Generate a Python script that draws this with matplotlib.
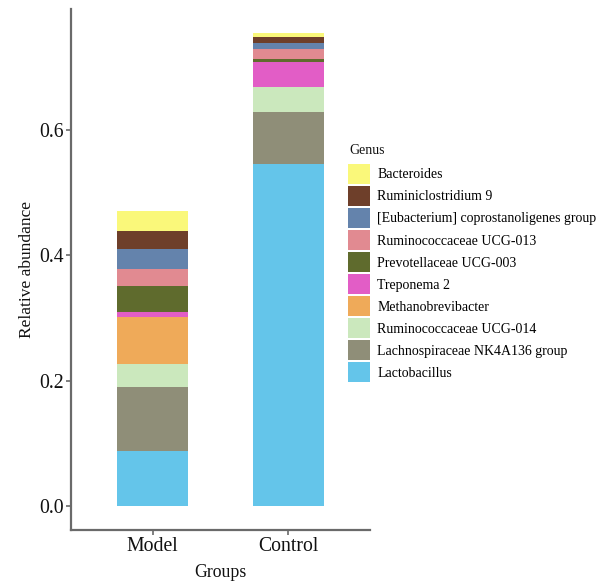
import matplotlib
matplotlib.use("Agg")
import matplotlib.pyplot as plt
from matplotlib.patches import Patch
import numpy as np

plt.rcParams['font.family'] = ['Liberation Serif', 'DejaVu Serif']

groups = ["Model", "Control"]
genera = ["Lactobacillus", "Lachnospiraceae NK4A136 group", "Ruminococcaceae UCG-014",
          "Methanobrevibacter", "Treponema 2", "Prevotellaceae UCG-003",
          "Ruminococcaceae UCG-013", "[Eubacterium] coprostanoligenes group",
          "Ruminiclostridium 9", "Bacteroides"]
model_vals = [0.0874, 0.1024, 0.0366, 0.0747, 0.0080, 0.0423, 0.0261, 0.0323, 0.0291, 0.0318]
control_vals = [0.5450, 0.0827, 0.0402, 0.0005, 0.0397, 0.0043, 0.0154, 0.0105, 0.0095, 0.0064]
colors = ["#64C5EA", "#8F8E78", "#CBE8BD", "#EFAA59", "#E25DC6", "#5F6B2D",
          "#E18A91", "#6483AC", "#6E3F2A", "#FAF87A"]
yticks = [0.0, 0.2, 0.4, 0.6]

fig = plt.figure(figsize=(6.04, 5.86), dpi=100)
ax = fig.add_axes([71/604, 1-530/586, (370-71)/604, (530-9)/586])

x = np.arange(1, len(groups)+1)
bottom = np.zeros(len(groups))
handles = []
for i, g in enumerate(genera):
    vals = np.array([model_vals[i], control_vals[i]])
    ax.bar(x, vals, width=0.52, bottom=bottom, color=colors[i], linewidth=0)
    bottom += vals
    handles.append(Patch(facecolor=colors[i], edgecolor='none', label=g))

top = bottom.max()
ax.set_xlim(0.4, 2.6)
ax.set_ylim(-0.05*top, top*1.05)
ax.set_xticks(x)
ax.set_xticklabels(groups)
ax.set_yticks(yticks)
ax.set_yticklabels([f"{t:.1f}" for t in yticks])
for s in ["top", "right"]:
    ax.spines[s].set_visible(False)
for s in ["left", "bottom"]:
    ax.spines[s].set_color("#6a6a6a")
    ax.spines[s].set_linewidth(1.6)
ax.tick_params(axis='both', colors="#6a6a6a", length=3.5, width=1.2, labelsize=14.2,
               labelcolor="#111111", pad=1.5)
ax.set_xlabel("Groups", fontsize=12.8, color="#111111", labelpad=6)
ax.set_ylabel("Relative abundance", fontsize=12.5, color="#111111", labelpad=3)

leg = fig.legend(handles=handles[::-1], loc='upper left', bbox_to_anchor=(348/604, 1-164/586),
                 frameon=False, fontsize=10,
                 handlelength=1.56, handleheight=1.84, labelspacing=0.144,
                 handletextpad=0.55, borderpad=0, borderaxespad=0)
fig.text(349/604, 1-150/586, "Genus", fontsize=10, color="#111111", ha='left', va='center')

fig.savefig("out.png", dpi=100)
